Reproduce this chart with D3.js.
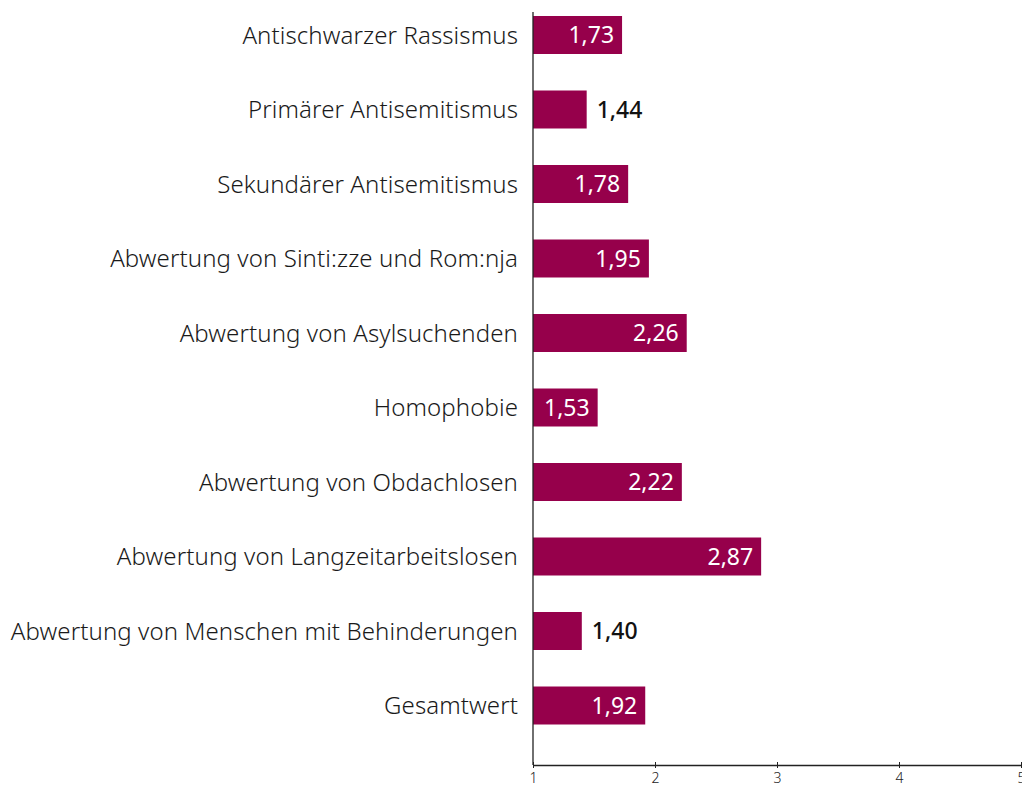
<!DOCTYPE html>
<html>
<head>
<meta charset="utf-8">
<script src="https://cdn.jsdelivr.net/npm/d3@7"></script>
<style>
  body { margin: 0; background: #fff; }
  svg { display: block; }
</style>
</head>
<body>
<div id="chart"></div>
<script>
const categories = [
    'Antischwarzer Rassismus',
    'Primärer Antisemitismus',
    'Sekundärer Antisemitismus',
    'Abwertung von Sinti:zze und Rom:nja',
    'Abwertung von Asylsuchenden',
    'Homophobie',
    'Abwertung von Obdachlosen',
    'Abwertung von Langzeitarbeitslosen',
    'Abwertung von Menschen mit Behinderungen',
    'Gesamtwert'
];
const values = [1.73, 1.44, 1.78, 1.95, 2.26, 1.53, 2.22, 2.87, 1.40, 1.92];
const xTicks = [1, 2, 3, 4, 5];

const width = 1022;
const height = 787;
const barColor = '#96004b';
const font = '"Noto Sans", sans-serif';

const svg = d3.select('#chart').append('svg')
    .attr('width', width)
    .attr('height', height);

const xScale = d3.scaleLinear()
    .domain([1, 5])
    .range([533, 1021]);

const yScale = d3.scaleBand()
    .domain(categories)
    .range([16, 724.5])
    .paddingInner(0.49)
    .paddingOuter(0);

const data = categories.map((c, i) => ({category: c, value: values[i]}));

// bars
svg.selectAll('rect.bar')
    .data(data)
    .enter()
    .append('rect')
    .attr('class', 'bar')
    .attr('x', xScale(1))
    .attr('y', d => yScale(d.category))
    .attr('width', d => xScale(d.value) - xScale(1))
    .attr('height', yScale.bandwidth())
    .attr('fill', barColor);

// category labels
svg.selectAll('text.cat')
    .data(data)
    .enter()
    .append('text')
    .attr('class', 'cat')
    .attr('x', 518)
    .attr('y', d => yScale(d.category) + yScale.bandwidth() / 2)
    .attr('dy', '0.36em')
    .attr('text-anchor', 'end')
    .style('font-family', font)
    .style('font-weight', 300)
    .style('font-size', '24px')
    .style('letter-spacing', '0.1px')
    .style('fill', '#1a1a1a')
    .text(d => d.category);

// value labels: inside if the bar is wide enough, else outside
const fmt = v => v.toFixed(2).replace('.', ',');
svg.selectAll('text.val')
    .data(data)
    .enter()
    .append('text')
    .attr('class', 'val')
    .each(function(d) {
        const barW = xScale(d.value) - xScale(1);
        const inside = barW > 60;
        d3.select(this)
            .attr('x', inside ? xScale(d.value) - 8 : xScale(d.value) + 10)
            .attr('text-anchor', inside ? 'end' : 'start')
            .style('fill', inside ? '#fff' : '#111')
            .style('font-weight', inside ? 400 : 500);
    })
    .attr('y', d => yScale(d.category) + yScale.bandwidth() / 2)
    .attr('dy', '0.36em')
    .style('font-family', font)
    .style('font-size', '23px')
    .text(d => fmt(d.value));

// x axis
const xAxis = svg.append('g')
    .attr('transform', 'translate(0,765)')
    .call(d3.axisBottom(xScale).tickValues(xTicks).tickFormat(d3.format('d')).tickSize(3).tickSizeOuter(0));
xAxis.select('.domain').attr('stroke', '#222').attr('stroke-width', 1.3);
xAxis.selectAll('.tick line').attr('y1', -3).attr('y2', 3).attr('stroke', '#222');
xAxis.selectAll('.tick text')
    .attr('y', 8)
    .style('font-family', font)
    .style('font-weight', 300)
    .style('font-size', '14px')
    .style('fill', '#222');

// y axis line
svg.append('line')
    .attr('x1', xScale(1)).attr('x2', xScale(1))
    .attr('y1', 12).attr('y2', 765)
    .attr('stroke', '#222')
    .attr('stroke-width', 1.3);
</script>
</body>
</html>
